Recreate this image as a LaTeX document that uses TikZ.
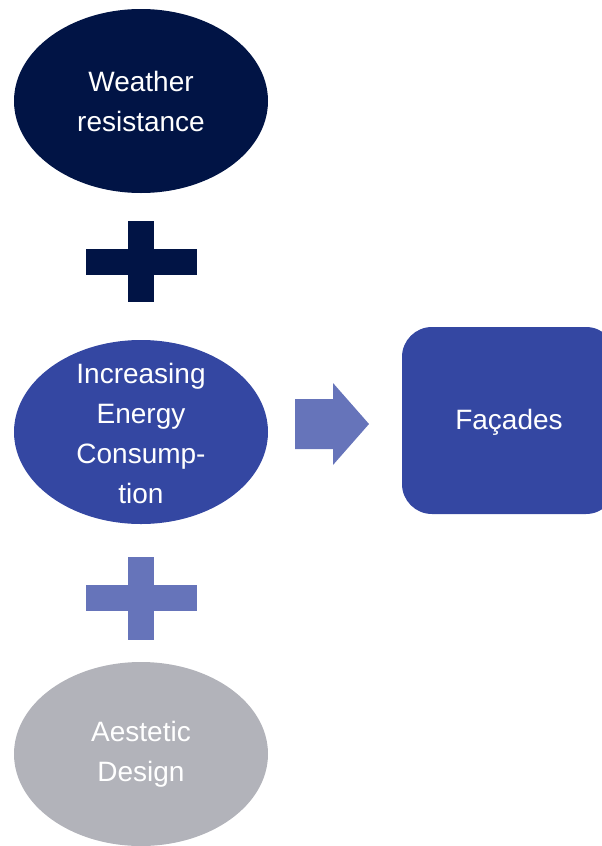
\documentclass[tikz,border=0pt]{standalone}
\usepackage{fontspec}
\setmainfont{Liberation Sans}
\usepackage{xcolor}
\usepackage{tikz}
\usetikzlibrary{shapes.geometric}
\definecolor{facNavy}{HTML}{011445}
\definecolor{facBlue}{HTML}{3447A2}
\definecolor{facLight}{HTML}{6674BA}
\definecolor{facGrey}{HTML}{B2B3BA}

\begin{document}
\begin{tikzpicture}[
  x=1pt,y=-1pt,
  blob/.style={ellipse,draw=none,minimum width=254pt,minimum height=184pt,inner sep=0pt},
  txt/.style={align=center,text=white,inner sep=0pt,font=\fontsize{28}{40}\selectfont},
  plusbar/.style={draw=none},
  goal/.style={rounded corners=30pt,draw=none,minimum width=214pt,minimum height=187pt}
]
  \useasboundingbox (0,0) rectangle (602,846);
  \node[blob,fill=facNavy] (weather) at (141,101) {};
  \node[txt] (weathertxt) at (weather.center) {Weather\\resistance};
  \fill[plusbar,facNavy] (86,249) rectangle (197,275);
  \fill[plusbar,facNavy] (128,221) rectangle (154,302);
  \node[blob,fill=facBlue] (energy) at (141,432) {};
  \node[txt] (energytxt) at ([yshift=-1pt]energy.center) {Increasing\\Energy\\Consump-\\tion};
  \fill[plusbar,facLight] (86,585) rectangle (197,611);
  \fill[plusbar,facLight] (128,557) rectangle (154,640);
  \node[blob,fill=facGrey] (design) at (141,754) {};
  \node[txt] (designtxt) at (design.center) {Aestetic\\Design};
  \fill[facLight] (295,399) -- (333,399) -- (333,383) -- (369,424)
    -- (333,465) -- (333,449) -- (295,449) -- cycle;
  \node[goal,fill=facBlue] (facades) at (509,420.5) {};
  \node[txt] (facadestxt) at ([yshift=-2pt]facades.center) {Façades};
\end{tikzpicture}
\end{document}
